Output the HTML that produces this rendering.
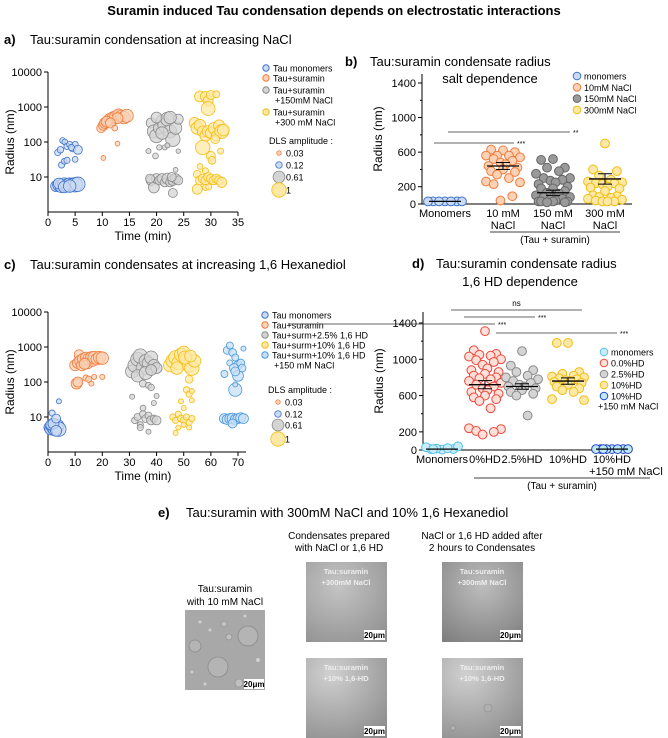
<!DOCTYPE html>
<html><head><meta charset="utf-8"><style>
body{margin:0;background:#fff}
svg{display:block;font-family:"Liberation Sans",Arial,sans-serif}
</style></head><body>
<svg id="fig" width="668" height="738" viewBox="0 0 668 738" xmlns="http://www.w3.org/2000/svg">
<defs>
<radialGradient id="g1" cx="0.4" cy="0.3" r="0.9"><stop offset="0" stop-color="#c4c4c4"/><stop offset="1" stop-color="#8e8e8e"/></radialGradient>
<radialGradient id="g2" cx="0.3" cy="0.2" r="1"><stop offset="0" stop-color="#d0d0d0"/><stop offset="1" stop-color="#8a8a8a"/></radialGradient>
<radialGradient id="g3" cx="0.5" cy="0.3" r="0.9"><stop offset="0" stop-color="#bdbdbd"/><stop offset="1" stop-color="#7a7a7a"/></radialGradient>
</defs>
<text x="334" y="15" text-anchor="middle" font-size="13" font-weight="bold">Suramin induced Tau condensation depends on electrostatic interactions</text>

<text x="4" y="44" font-size="13" font-weight="bold">a)</text>
<text x="30" y="44" font-size="13">Tau:suramin condensation at increasing NaCl</text>
<text x="345" y="66" font-size="13" font-weight="bold">b)</text>
<text x="370" y="66" font-size="13">Tau:suramin condensate radius</text>
<text x="490" y="83" text-anchor="middle" font-size="13">salt dependence</text>
<text x="4" y="269" font-size="13" font-weight="bold">c)</text>
<text x="30" y="269" font-size="13">Tau:suramin condensates at increasing 1,6 Hexanediol</text>
<text x="412" y="268" font-size="13" font-weight="bold">d)</text>
<text x="436" y="268" font-size="13">Tau:suramin condensate radius</text>
<text x="520" y="286" text-anchor="middle" font-size="13">1,6 HD dependence</text>

<g id="pa"></g><g id="pb"></g><g id="pc"></g><g id="pd"></g>

<g>
<text x="158" y="517" font-size="13" font-weight="bold">e)</text>
<text x="186" y="517" font-size="13">Tau:suramin with 300mM NaCl and 10% 1,6 Hexanediol</text>
<text x="339" y="539" text-anchor="middle" font-size="10">Condensates prepared</text>
<text x="339" y="551" text-anchor="middle" font-size="10">with NaCl or 1,6 HD</text>
<text x="482" y="539" text-anchor="middle" font-size="10">NaCl or 1,6 HD added after</text>
<text x="482" y="551" text-anchor="middle" font-size="10">2 hours to Condensates</text>
<text x="225" y="592" text-anchor="middle" font-size="10">Tau:suramin</text>
<text x="225" y="605" text-anchor="middle" font-size="10">with 10 mM NaCl</text>

<g>
<rect x="185" y="610" width="80" height="80" fill="#a8a8a8"/>
<circle cx="248" cy="636" r="10" fill="#b4b4b4" stroke="#8c8c8c" stroke-width="0.8"/>
<circle cx="218" cy="667" r="10" fill="#b4b4b4" stroke="#8c8c8c" stroke-width="0.8"/>
<circle cx="195" cy="646" r="6" fill="#b4b4b4" stroke="#8c8c8c" stroke-width="0.8"/>
<circle cx="229" cy="637" r="3" fill="#c0c0c0" stroke="#8c8c8c" stroke-width="0.6"/>
<circle cx="224" cy="624" r="3" fill="#c0c0c0" stroke="#8c8c8c" stroke-width="0.6"/>
<circle cx="239" cy="683" r="4" fill="#c0c0c0" stroke="#8c8c8c" stroke-width="0.6"/>
<circle cx="200" cy="622" r="1.5" fill="#d0d0d0"/><circle cx="210" cy="630" r="1.5" fill="#d0d0d0"/><circle cx="245" cy="616" r="1.5" fill="#d0d0d0"/><circle cx="258" cy="660" r="2" fill="#d0d0d0"/><circle cx="192" cy="672" r="1.5" fill="#d0d0d0"/><circle cx="205" cy="684" r="1.5" fill="#d0d0d0"/>
<rect x="244" y="679" width="20" height="10" fill="#fff"/>
<text x="254" y="687" text-anchor="middle" font-size="8" font-weight="bold">20μm</text>
</g>
<g>
<rect x="306" y="562" width="81" height="80" fill="url(#g1)"/>
<text x="346" y="574" text-anchor="middle" font-size="7.5" font-weight="bold" fill="#eee">Tau:suramin</text>
<text x="346" y="585" text-anchor="middle" font-size="7.5" font-weight="bold" fill="#eee">+300mM NaCl</text>
<rect x="364" y="630" width="21" height="10" fill="#fff"/><text x="374.5" y="638" text-anchor="middle" font-size="8" font-weight="bold">20μm</text>
</g>
<g>
<rect x="306" y="658" width="81" height="80" fill="url(#g2)"/>
<text x="346" y="670" text-anchor="middle" font-size="7.5" font-weight="bold" fill="#eee">Tau:suramin</text>
<text x="346" y="681" text-anchor="middle" font-size="7.5" font-weight="bold" fill="#eee">+10% 1,6-HD</text>
<rect x="364" y="726" width="21" height="10" fill="#fff"/><text x="374.5" y="734" text-anchor="middle" font-size="8" font-weight="bold">20μm</text>
</g>
<g>
<rect x="442" y="562" width="81" height="80" fill="url(#g3)"/>
<text x="482" y="574" text-anchor="middle" font-size="7.5" font-weight="bold" fill="#eee">Tau:suramin</text>
<text x="482" y="585" text-anchor="middle" font-size="7.5" font-weight="bold" fill="#eee">+300mM NaCl</text>
<rect x="500" y="630" width="21" height="10" fill="#fff"/><text x="510.5" y="638" text-anchor="middle" font-size="8" font-weight="bold">20μm</text>
</g>
<g>
<rect x="442" y="658" width="81" height="80" fill="url(#g2)"/>
<circle cx="488" cy="708" r="4" fill="#b0b0b0" stroke="#888" stroke-width="0.6"/>
<circle cx="453" cy="728" r="2.5" fill="#b0b0b0" stroke="#888" stroke-width="0.6"/>
<text x="482" y="670" text-anchor="middle" font-size="7.5" font-weight="bold" fill="#eee">Tau:suramin</text>
<text x="482" y="681" text-anchor="middle" font-size="7.5" font-weight="bold" fill="#eee">+10% 1,6-HD</text>
<rect x="500" y="726" width="21" height="10" fill="#fff"/><text x="510.5" y="734" text-anchor="middle" font-size="8" font-weight="bold">20μm</text>
</g>
</g>
</svg>
<script>
const NS="http://www.w3.org/2000/svg";
// ---------- DATA ----------
const aMonomers=[[1.5,5.5,0.5],[2,6,0.7],[2.5,5.5,0.8],[3,6,0.9],[3.5,5.8,0.8],[4,6,0.9],[4.5,6,0.8],[5,6,1],[5.5,6.2,1],[2,6.5,0.5],[3,5.2,0.6],[4,5.5,0.7],[1.8,50,0.1],[2.3,60,0.12],[2.7,110,0.08],[3.1,100,0.08],[3.5,75,0.1],[4,85,0.1],[4.5,65,0.12],[5,85,0.1],[5.5,60,0.3],[2.5,22,0.1],[3,28,0.08],[3.5,30,0.1],[5,32,0.08],[4.3,70,0.1]];
const aSuramin=[[9.8,250,0.3],[10.2,300,0.4],[10.5,350,0.5],[11,400,0.5],[11.3,450,0.5],[11.8,430,0.6],[12,500,0.6],[12.5,520,0.7],[13,600,0.6],[13.5,550,0.6],[14,500,0.7],[14.5,560,0.8],[10.8,380,0.5],[12.8,480,0.5],[11.5,350,0.4],[12.3,250,0.08],[12.8,90,0.04],[10.2,35,0.04]];
const aNaCl150=[[19,350,0.4],[19.5,200,0.8],[20,150,0.9],[20.5,250,0.6],[21,400,0.6],[21.5,300,0.9],[22,450,0.9],[22.5,200,0.8],[23,120,1],[23.5,250,0.7],[24,450,0.4],[20,500,0.5],[22.5,500,0.7],[21,180,0.7],[18.5,55,0.05],[19.8,40,0.08],[20.5,70,0.06],[21.5,70,0.05],[22,80,0.05],[24,55,0.03],[19,8,0.4],[19.5,5,0.5],[20,9,0.4],[20.5,8,0.3],[21,9,0.4],[21.5,7,0.3],[22,9,0.5],[22.5,7,0.3],[23,8,0.4],[23.5,9,0.4],[24,8,0.3],[23,3.5,0.3],[23.5,16,0.04],[18.8,9,0.3],[22.8,10,0.3]];
const aNaCl300=[[28,2000,0.5],[29,2000,0.4],[29.5,1500,0.4],[30,2200,0.3],[31,2300,0.15],[29.5,900,0.9],[27,350,0.5],[27.5,250,0.7],[28,300,0.6],[28.5,200,0.5],[29,150,0.5],[29.5,200,0.6],[30,180,0.5],[30.5,250,0.5],[31,150,0.4],[31.5,300,0.5],[32,200,0.9],[32.3,220,0.6],[30.8,120,0.3],[28.5,70,1],[30,40,0.3],[31.8,55,0.1],[30.2,30,0.2],[28,20,0.08],[29,15,0.1],[27.5,12,0.2],[28,8,0.3],[28.5,9,0.3],[29,8,0.3],[29.5,10,0.3],[30,9,0.3],[30.5,8,0.3],[31,9,0.3],[31.5,8,0.3],[32,7,0.4],[27.5,4.5,0.4],[29,5,0.1],[29.6,5.2,0.1]];
const cMonomers=[[0.5,5,0.5],[1,4.5,0.6],[1.5,5.5,0.7],[2,5,0.8],[2.5,4.5,0.8],[3,5,0.9],[3.5,5.5,0.8],[4,4.5,1],[1,6,0.4],[2,6.5,0.5],[3,4,0.5],[1.5,13,0.1],[3,9,0.3],[4,28,0.05]];
const cSuramin=[[10,300,0.5],[11,350,0.5],[11.5,600,0.4],[12,400,0.6],[12.5,300,0.5],[13,450,0.6],[14,500,0.5],[14.5,350,0.6],[15,450,0.6],[16,500,0.6],[16.5,400,0.5],[17,500,0.7],[18,450,0.6],[19,500,0.7],[20,480,0.7],[13.5,330,0.5],[10.5,90,0.5],[11,100,0.4],[14,130,0.1],[15,120,0.1],[16,90,0.05],[17,140,0.05],[20,140,0.05]];
const cHD25=[[31,200,0.8],[32,300,0.9],[33,450,0.9],[34,550,1],[35,250,0.9],[36,400,0.8],[37,350,0.7],[38,500,0.8],[39,300,0.6],[40,250,0.5],[33,150,0.7],[36,180,0.8],[38,220,0.5],[35,90,0.15],[37,80,0.1],[38,70,0.12],[31,38,0.05],[40,40,0.05],[39,25,0.05],[32,8,0.12],[33,10,0.15],[34,6,0.1],[35,12,0.15],[36,9,0.2],[37,11,0.15],[38,8,0.3],[39,9,0.15],[40,8,0.3],[34,5,0.1],[37,3.8,0.05],[35,18,0.08]];
const cHD10=[[45,300,0.8],[46,400,0.9],[47,500,0.9],[48,350,0.8],[49,600,0.8],[50,700,0.7],[51,450,0.8],[52,300,0.9],[53,250,1],[54,400,0.7],[47.5,250,0.7],[50.5,500,0.8],[52.5,550,0.6],[52,120,0.2],[51,60,0.1],[52,45,0.1],[53,55,0.05],[49,28,0.05],[50,18,0.05],[53,30,0.05],[46,10,0.1],[47,8,0.1],[48,12,0.1],[49,9,0.15],[50,8,0.15],[51,10,0.1],[52,7,0.1],[53,9,0.1],[48,5,0.05],[47,3.5,0.05],[50,6,0.05],[52,5,0.05]];
const cHD10NaCl=[[66,800,0.2],[67,1100,0.15],[68,700,0.2],[69,500,0.15],[70,300,0.3],[71,350,0.2],[72,900,0.05],[67,350,0.1],[68.5,250,0.3],[70,150,0.5],[71.5,250,0.2],[69,200,0.3],[65,170,0.15],[69,60,0.8],[69,85,0.05],[65,9,0.4],[66,8.5,0.4],[67,9,0.4],[68,9,0.5],[69,8.5,0.4],[70,9,0.4],[71,9.5,0.4],[72,9,0.4],[68,6.5,0.3]];
const bCategories=["Monomers","10 mM|NaCl","150 mM|NaCl","300 mM|NaCl"];
const bMonomers=[30,30,30,30,30,30,30];
const b10=[620,630,600,560,560,560,540,520,500,480,460,440,420,400,380,370,340,300,260,250,230,90,40];
const b150=[520,510,420,420,380,350,300,300,280,270,250,230,200,180,180,150,130,120,100,80,80,60,50,40,30,30,30,30,20,20];
const b300=[700,400,380,330,280,260,250,240,240,230,200,190,180,150,100,90,80,70,60,50,40,30,30,30];
const bMeans=[30,440,130,290];
const bSem=[0,40,30,60];
const dCategories=["Monomers","0%HD","2.5%HD","10%HD","10%HD|+150 mM NaCl"];
const dMonomers=[5,10,10,15,20,30,40,10];
const d0=[1310,1100,1060,1050,1040,1030,1000,990,970,940,900,880,860,840,820,800,790,780,760,740,720,700,680,660,640,620,600,580,560,540,460,240,230,210,200,170];
const d25=[1090,930,880,860,820,800,780,760,740,720,700,700,680,660,640,620,600,380];
const d10=[1180,1180,860,840,820,810,800,790,780,770,760,750,740,720,700,680,660,640,560,550];
const d10N=[10,10,10,10,10,10,10,10];
const dMeans=[10,720,700,760,10];
const dSem=[0,45,30,35,0];
const ampLegend=[0.03,0.12,0.61,1.0];
const aTicksX=[0,5,10,15,20,25,30,35];
const cTicksX=[0,10,20,30,40,50,60,70];
const logTicks=[10,100,1000,10000];
const bTicks=[0,200,600,1000,1400];

function el(parent,tag,attrs,text){const e=document.createElementNS(NS,tag);for(const k in attrs)e.setAttribute(k,attrs[k]);if(text!==undefined)e.textContent=text;parent.appendChild(e);return e;}
const rAmp=a=>1.2+6*Math.sqrt(a);
const C={blue:["#3f73c9","#cbdaf1"],orange:["#f07a3a","#fbd2b5"],gray:["#8a8a8a","#d4d4d4"],yellow:["#f3be10","#fde8a6"],lblue:["#4a98dc","#c8e0f5"],red:["#f0463c","#fde0d8"],dgray:["#666","#9a9a9a"],cyan:["#55c0e8","#c8ecf8"],dblue:["#2244cc","#bfe8f0"]};

function logPanel(g,ticks,xmax,yBottom,series,legend,legX,legY,ampY){
  const x0=48,xw=190, y=v=>yBottom-35*Math.log10(v), x=t=>x0+t*xw/xmax;
  el(g,"line",{x1:x0,y1:yBottom-140,x2:x0,y2:yBottom,stroke:"#000","stroke-width":1});
  el(g,"line",{x1:x0,y1:yBottom,x2:x0+xw+(ticks===cTicksX?8:0),y2:yBottom,stroke:"#000","stroke-width":1});
  for(const t of logTicks){el(g,"line",{x1:x0-4,y1:y(t),x2:x0,y2:y(t),stroke:"#000"});
    const tx=el(g,"text",{x:x0-6,y:y(t)+4,"text-anchor":"end","font-size":11},String(t));
    
    }
  for(const t of ticks){el(g,"line",{x1:x(t),y1:yBottom,x2:x(t),y2:yBottom+4,stroke:"#000"});
    const tx=el(g,"text",{x:x(t),y:yBottom+14,"text-anchor":"middle","font-size":11},String(t));
    
    }
  const xt=el(g,"text",{x:x0+xw/2,y:yBottom+28,"text-anchor":"middle","font-size":12},"Time (min)");
  
  
  const yt=el(g,"text",{x:0,y:0,transform:`translate(14,${yBottom-70}) rotate(-90)`,"text-anchor":"middle","font-size":12},"Radius (nm)");
  
  
  for(const s of series){const [st,fi]=C[s.c];
    for(const p of s.d){const c=el(g,"circle",{cx:x(p[0]),cy:y(p[1]),r:rAmp(p[2]),fill:fi,"fill-opacity":0.75,stroke:st,"stroke-width":0.8});
      
      }}
  legend.forEach((L,i)=>{const yy=legY[i];const [st,fi]=C[L.c];
    const c=el(g,"circle",{cx:legX,cy:yy,r:3.2,fill:fi,stroke:st,"stroke-width":1});
    
    
    L.t.forEach((tt,j)=>{const t=el(g,"text",{x:legX+7+(j?2:0),y:yy+3.5+j*10,"font-size":9},tt);
      
      });});
  const at=el(g,"text",{x:legX+3,y:ampY[0]+3,"font-size":9},"DLS amplitude :");
  
  
  const ac=["orange","blue","gray","yellow"];
  ampLegend.forEach((a,i)=>{const [st,fi]=C[ac[i]];const yy=ampY[i+1];
    const c=el(g,"circle",{cx:legX+13,cy:yy,r:rAmp(a),fill:fi,stroke:st,"stroke-width":0.8});
    
    
    const t=el(g,"text",{x:legX+20,y:yy+3.5,"font-size":9},String(a));
    
    });
}
const pa=document.getElementById("pa");


logPanel(pa,aTicksX,35,212,
 [{n:"tau-monomers",c:"blue",d:aMonomers},{n:"tau-suramin",c:"orange",d:aSuramin},{n:"150mm-nacl",c:"gray",d:aNaCl150},{n:"300mm-nacl",c:"yellow",d:aNaCl300}],
 [{c:"blue",t:["Tau monomers"]},{c:"orange",t:["Tau+suramin"]},{c:"gray",t:["Tau+suramin","+150mM NaCl"]},{c:"yellow",t:["Tau+suramin","+300 mM NaCl"]}],
 266,[68,78,90,112],[141,153,165,177,190]);
const pc=document.getElementById("pc");


logPanel(pc,cTicksX,70,452,
 [{n:"tau-monomers",c:"blue",d:cMonomers},{n:"tau-suramin",c:"orange",d:cSuramin},{n:"2-5pct-hd",c:"gray",d:cHD25},{n:"10pct-hd",c:"yellow",d:cHD10},{n:"10pct-hd-nacl",c:"lblue",d:cHD10NaCl}],
 [{c:"blue",t:["Tau monomers"]},{c:"orange",t:["Tau+suramin"]},{c:"gray",t:["Tau+surm+2.5% 1,6 HD"]},{c:"yellow",t:["Tau+surm+10% 1,6 HD"]},{c:"lblue",t:["Tau+surm+10% 1,6 HD","+150 mM NaCl"]}],
 265,[315,325,335,345,355],[390,402,414,425,439]);

// bounded jitter swarm
const JIT=[0,-0.7,0.7,-0.35,0.35,-1,1,-0.55,0.55,-0.15,0.15,-0.85,0.85];
function swarm(vals,cx,yf,half){
  return vals.map((v,i)=>[cx+JIT[i%JIT.length]*half,yf(v)]);}
function swarmPanel(g,opt){
  const {x0,x1,y,cats,centers,groups,means,sems,ticks,yTop,yBottom,lab}=opt;
  el(g,"line",{x1:x0,y1:yTop,x2:x0,y2:yBottom,stroke:"#000"});
  el(g,"line",{x1:x0,y1:yBottom,x2:x1,y2:yBottom,stroke:"#000"});
  for(let v=0;v<=1400;v+=200)el(g,"line",{x1:x0-(ticks.includes(v)?4:2),y1:y(v),x2:x0,y2:y(v),stroke:"#000"});
  for(const t of ticks){const tx=el(g,"text",{x:x0-6,y:y(t)+4,"text-anchor":"end","font-size":11},String(t));
    
    }
  const yt=el(g,"text",{x:0,y:0,transform:`translate(${x0-40},${(yTop+yBottom)/2}) rotate(-90)`,"text-anchor":"middle","font-size":12},"Radius (nm)");
  
  
  cats.forEach((c,i)=>{c.split("|").forEach((s,j)=>{
    const t=el(g,"text",{x:centers[i]+(j&&s.startsWith("+")?14:0),y:yBottom+13+j*12,"text-anchor":"middle","font-size":11},s);
    
    });});
  groups.forEach((G,i)=>{const [st,fi]=C[G.c];
    for(const p of swarm(G.d,centers[i],y,opt.half)){const c=el(g,"circle",{cx:p[0],cy:p[1],r:4.4,fill:fi,stroke:st,"stroke-width":1});
      
      }
    const m=y(means[i]),s1=y(means[i]+sems[i]),s2=y(means[i]-sems[i]);
    const ml=el(g,"line",{x1:centers[i]-16,y1:m,x2:centers[i]+16,y2:m,stroke:"#000","stroke-width":1.3});
    
    
    if(sems[i]>0){el(g,"line",{x1:centers[i],y1:s1,x2:centers[i],y2:s2,stroke:"#000"});
      el(g,"line",{x1:centers[i]-7,y1:s1,x2:centers[i]+7,y2:s1,stroke:"#000"});
      el(g,"line",{x1:centers[i]-7,y1:s2,x2:centers[i]+7,y2:s2,stroke:"#000"});}
  });
  opt.legend.forEach((L,i)=>{const [st,fi]=C[L.c];const yy=opt.legY+i*opt.legStep;
    const c=el(g,"circle",{cx:opt.legX,cy:yy,r:3.8,fill:fi,stroke:st,"stroke-width":1});
    
    
    L.t.forEach((tt,j)=>{const t=el(g,"text",{x:opt.legX+(j?-6:7),y:yy+3.5+j*10,"font-size":9},tt);
      
      });});
  for(const s of opt.sig){el(g,"line",{x1:s[0],y1:s[2],x2:s[1],y2:s[2],stroke:"#333","stroke-width":0.8});
    const t=el(g,"text",{x:s[3]?(s[0]+s[1])/2:s[1]+3,y:s[3]?s[2]-4:s[2]+3,"font-size":s[3]?8:7,"text-anchor":s[3]?"middle":"start"},s[4]);
    
    }
  el(g,"line",{x1:lab[0],y1:lab[2],x2:lab[1],y2:lab[2],stroke:"#000","stroke-width":0.8});
  const t=el(g,"text",{x:(lab[0]+lab[1])/2,y:lab[2]+11,"text-anchor":"middle","font-size":10},"(Tau + suramin)");
  
  
}
const pb=document.getElementById("pb");


swarmPanel(pb,{x0:422,x1:632,y:v=>204-v*121/1400,yTop:74,yBottom:204,cats:bCategories,centers:[445,503,553,605],half:17,
 groups:[{n:"monomers",c:"blue",d:bMonomers},{n:"10mm-nacl",c:"orange",d:b10},{n:"150mm-nacl",c:"dgray",d:b150},{n:"300mm-nacl",c:"yellow",d:b300}],
 means:bMeans,sems:bSem,ticks:bTicks,
 legend:[{c:"blue",t:["monomers"]},{c:"orange",t:["10mM NaCl"]},{c:"dgray",t:["150mM NaCl"]},{c:"yellow",t:["300mM NaCl"]}],legX:577,legY:76,legStep:11.3,
 sig:[[434,514,143,0,"***"],[448,570,132,0,"**"]],lab:[490,620,232]});
const pd=document.getElementById("pd");


swarmPanel(pd,{x0:423,x1:628,y:v=>450-v*127/1400,yTop:312,yBottom:450,cats:dCategories,centers:[442,485,522,568,612],half:16,
 groups:[{n:"monomers",c:"cyan",d:dMonomers},{n:"0pct-hd",c:"red",d:d0},{n:"2-5pct-hd",c:"gray",d:d25},{n:"10pct-hd",c:"yellow",d:d10},{n:"10pct-hd-nacl",c:"dblue",d:d10N}],
 means:dMeans,sems:dSem,ticks:bTicks,
 legend:[{c:"cyan",t:["monomers"]},{c:"red",t:["0.0%HD"]},{c:"gray",t:["2.5%HD"]},{c:"yellow",t:["10%HD"]},{c:"dblue",t:["10%HD","+150 mM NaCl"]}],legX:604,legY:352,legStep:11,
 sig:[[451,582,310,1,"ns"],[464,535,317,0,"***"],[288,495,324,0,"***"],[496,617,333,0,"***"]],lab:[474,650,478]});
</script>
</body></html>
